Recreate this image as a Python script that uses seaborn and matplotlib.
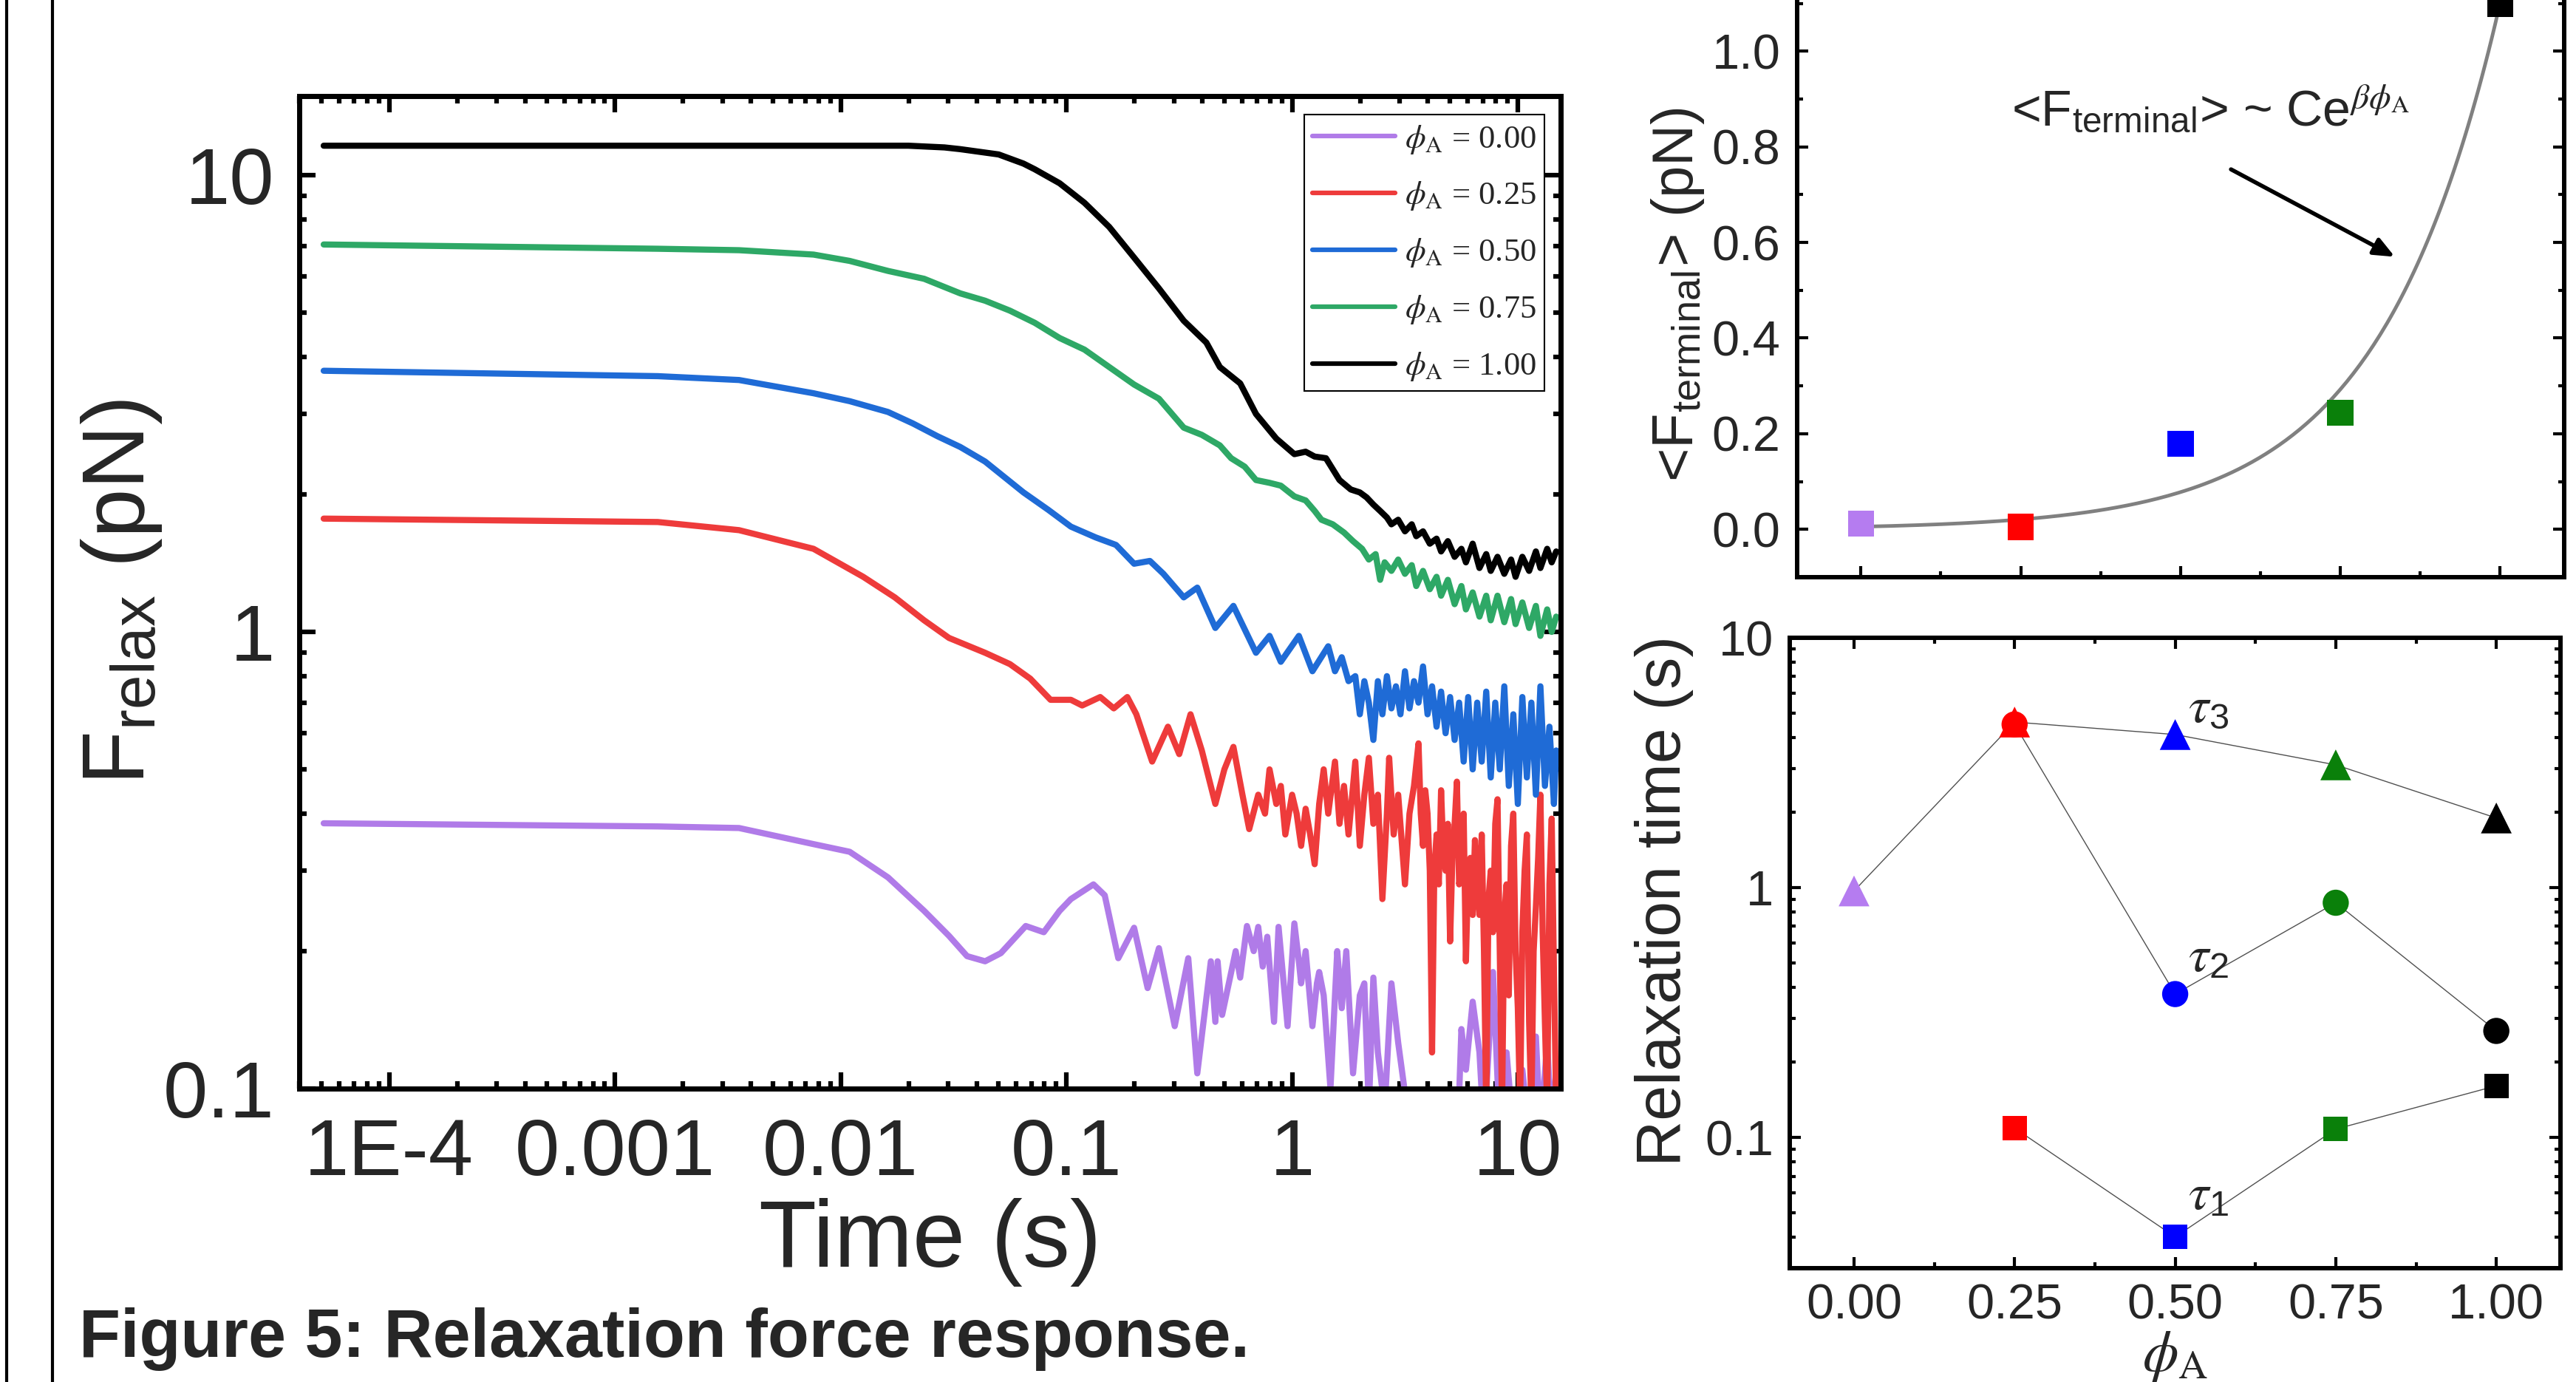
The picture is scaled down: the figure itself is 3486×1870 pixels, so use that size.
import numpy as np
import pandas as pd
import matplotlib
matplotlib.use('Agg')
import matplotlib.pyplot as plt
import seaborn as sns
from matplotlib.lines import Line2D
from matplotlib.ticker import (FixedLocator, FixedFormatter, LogLocator, MultipleLocator,
                               NullFormatter, FormatStrFormatter)

# ---- data ----
phi_values = [0.00, 0.25, 0.50, 0.75, 1.00]
phi_labels = ['0.00', '0.25', '0.50', '0.75', '1.00']
curve_colors = ['#b07be8', '#ee3b3b', '#1f6bd6', '#2ea866', '#000000']
marker_colors = ['#b57cf0', '#ff0000', '#0000ff', '#0a800a', '#000000']

# relaxation curves: (log10 time [s], F_relax [pN])
relax_000 = [(-4.29, 0.381), (-2.81, 0.375), (-2.45, 0.372), (-2.12, 0.343), (-1.96, 0.33),
             (-1.79, 0.29), (-1.63, 0.245), (-1.52, 0.216), (-1.44, 0.195), (-1.36, 0.19),
             (-1.29, 0.198), (-1.18, 0.227), (-1.10, 0.22), (-1.03, 0.245), (-0.98, 0.26),
             (-0.88, 0.28), (-0.83, 0.265), (-0.77, 0.193), (-0.70, 0.225), (-0.64, 0.166),
             (-0.59, 0.203), (-0.52, 0.137), (-0.46, 0.193), (-0.42, 0.108), (-0.36, 0.19),
             (-0.34, 0.14), (-0.33, 0.19), (-0.31, 0.145), (-0.25, 0.20), (-0.23, 0.175),
             (-0.20, 0.227), (-0.17, 0.20), (-0.15, 0.226), (-0.13, 0.185), (-0.11, 0.215),
             (-0.08, 0.14), (-0.06, 0.226), (-0.02, 0.137), (0.01, 0.23), (0.03, 0.19),
             (0.04, 0.17), (0.06, 0.20), (0.09, 0.137), (0.11, 0.17), (0.12, 0.18),
             (0.14, 0.16), (0.17, 0.10), (0.19, 0.16), (0.20, 0.20), (0.22, 0.15),
             (0.24, 0.20), (0.27, 0.108), (0.30, 0.16), (0.32, 0.17), (0.34, 0.09),
             (0.36, 0.175), (0.38, 0.12), (0.41, 0.09), (0.44, 0.17), (0.47, 0.126),
             (0.51, 0.09), (0.55, 0.05), (0.72, 0.05), (0.75, 0.135), (0.77, 0.11),
             (0.80, 0.155), (0.83, 0.12), (0.85, 0.08), (0.89, 0.18), (0.92, 0.08),
             (0.95, 0.12), (0.98, 0.08), (1.02, 0.11), (1.05, 0.08), (1.08, 0.13),
             (1.10, 0.08), (1.13, 0.126), (1.15, 0.08), (1.17, 0.11)]

relax_025 = [(-4.29, 1.77), (-2.81, 1.74), (-2.45, 1.67), (-2.12, 1.52), (-1.90, 1.32),
             (-1.76, 1.19), (-1.63, 1.06), (-1.52, 0.97), (-1.36, 0.90), (-1.25, 0.85),
             (-1.16, 0.79), (-1.07, 0.71), (-0.98, 0.71), (-0.93, 0.69), (-0.85, 0.72),
             (-0.79, 0.68), (-0.73, 0.72), (-0.69, 0.66), (-0.62, 0.52), (-0.55, 0.62),
             (-0.50, 0.54), (-0.45, 0.66), (-0.40, 0.55), (-0.34, 0.42), (-0.30, 0.50),
             (-0.26, 0.56), (-0.22, 0.44), (-0.19, 0.37), (-0.15, 0.44), (-0.12, 0.40),
             (-0.10, 0.50), (-0.07, 0.42), (-0.05, 0.46), (-0.03, 0.36), (0.00, 0.44),
             (0.02, 0.40), (0.04, 0.34), (0.06, 0.41), (0.08, 0.36), (0.10, 0.31),
             (0.12, 0.42), (0.14, 0.50), (0.16, 0.40), (0.19, 0.52), (0.21, 0.38),
             (0.23, 0.46), (0.25, 0.36), (0.28, 0.52), (0.30, 0.34), (0.32, 0.44),
             (0.34, 0.53), (0.36, 0.38), (0.38, 0.44), (0.40, 0.26), (0.42, 0.40),
             (0.43, 0.53), (0.45, 0.36), (0.47, 0.44), (0.50, 0.28), (0.52, 0.40),
             (0.54, 0.46), (0.56, 0.57), (0.57, 0.40), (0.58, 0.34), (0.59, 0.45),
             (0.60, 0.40), (0.61, 0.30), (0.62, 0.12), (0.63, 0.30), (0.64, 0.36),
             (0.65, 0.28), (0.66, 0.45), (0.67, 0.33), (0.68, 0.30), (0.69, 0.38),
             (0.70, 0.21), (0.71, 0.32), (0.72, 0.38), (0.73, 0.47), (0.74, 0.28),
             (0.75, 0.30), (0.76, 0.40), (0.77, 0.19), (0.78, 0.30), (0.79, 0.32),
             (0.80, 0.24), (0.81, 0.35), (0.82, 0.28), (0.83, 0.24), (0.84, 0.36),
             (0.85, 0.20), (0.86, 0.09), (0.87, 0.26), (0.88, 0.30), (0.89, 0.22),
             (0.90, 0.38), (0.91, 0.43), (0.92, 0.20), (0.93, 0.09), (0.94, 0.24),
             (0.95, 0.28), (0.96, 0.16), (0.97, 0.34), (0.98, 0.40), (0.99, 0.20),
             (1.00, 0.15), (1.01, 0.09), (1.02, 0.22), (1.03, 0.30), (1.04, 0.36),
             (1.05, 0.14), (1.06, 0.09), (1.07, 0.20), (1.08, 0.25), (1.09, 0.32),
             (1.10, 0.44), (1.11, 0.22), (1.12, 0.14), (1.13, 0.09), (1.14, 0.28),
             (1.15, 0.39), (1.16, 0.18), (1.17, 0.09)]

relax_050 = [(-4.29, 3.73), (-2.81, 3.63), (-2.45, 3.56), (-2.12, 3.33), (-1.96, 3.20),
             (-1.79, 3.03), (-1.68, 2.86), (-1.57, 2.68), (-1.47, 2.54), (-1.36, 2.36),
             (-1.19, 2.02), (-1.08, 1.85), (-0.98, 1.70), (-0.87, 1.61), (-0.78, 1.55),
             (-0.70, 1.41), (-0.63, 1.43), (-0.57, 1.34), (-0.48, 1.19), (-0.42, 1.25),
             (-0.34, 1.02), (-0.26, 1.14), (-0.16, 0.90), (-0.10, 0.98), (-0.05, 0.86),
             (0.03, 0.98), (0.09, 0.82), (0.16, 0.93), (0.19, 0.82), (0.22, 0.88),
             (0.25, 0.78), (0.28, 0.80), (0.30, 0.66), (0.32, 0.78), (0.34, 0.70),
             (0.36, 0.58), (0.38, 0.78), (0.40, 0.66), (0.42, 0.80), (0.44, 0.68),
             (0.46, 0.76), (0.48, 0.66), (0.50, 0.82), (0.52, 0.68), (0.54, 0.78),
             (0.56, 0.70), (0.58, 0.84), (0.60, 0.66), (0.62, 0.76), (0.64, 0.62),
             (0.66, 0.74), (0.68, 0.60), (0.70, 0.72), (0.72, 0.58), (0.74, 0.70),
             (0.76, 0.52), (0.78, 0.72), (0.80, 0.50), (0.82, 0.70), (0.84, 0.52),
             (0.86, 0.74), (0.88, 0.48), (0.90, 0.70), (0.92, 0.50), (0.94, 0.76),
             (0.96, 0.46), (0.98, 0.66), (1.00, 0.42), (1.02, 0.72), (1.04, 0.48),
             (1.06, 0.70), (1.08, 0.44), (1.10, 0.76), (1.12, 0.46), (1.14, 0.62),
             (1.16, 0.42), (1.17, 0.55)]

relax_075 = [(-4.29, 7.05), (-2.81, 6.90), (-2.45, 6.85), (-2.12, 6.70), (-1.96, 6.49),
             (-1.79, 6.17), (-1.63, 5.93), (-1.47, 5.51), (-1.36, 5.31), (-1.25, 5.05),
             (-1.14, 4.75), (-1.03, 4.40), (-0.92, 4.15), (-0.81, 3.80), (-0.70, 3.48),
             (-0.59, 3.24), (-0.48, 2.80), (-0.40, 2.70), (-0.32, 2.56), (-0.27, 2.40),
             (-0.21, 2.30), (-0.16, 2.15), (-0.10, 2.12), (-0.05, 2.09), (0.01, 1.98),
             (0.06, 1.94), (0.10, 1.84), (0.13, 1.76), (0.18, 1.72), (0.23, 1.65),
             (0.27, 1.58), (0.31, 1.52), (0.34, 1.44), (0.37, 1.48), (0.39, 1.30),
             (0.41, 1.42), (0.44, 1.36), (0.47, 1.44), (0.50, 1.34), (0.53, 1.40),
             (0.55, 1.26), (0.58, 1.36), (0.61, 1.24), (0.64, 1.32), (0.66, 1.20),
             (0.69, 1.30), (0.72, 1.15), (0.75, 1.26), (0.77, 1.12), (0.80, 1.22),
             (0.83, 1.08), (0.86, 1.20), (0.88, 1.06), (0.91, 1.20), (0.94, 1.05),
             (0.97, 1.18), (0.99, 1.04), (1.02, 1.16), (1.05, 1.02), (1.08, 1.14),
             (1.10, 0.98), (1.13, 1.12), (1.15, 1.00), (1.17, 1.08)]

relax_100 = [(-4.29, 11.6), (-1.70, 11.6), (-1.54, 11.5), (-1.47, 11.4), (-1.30, 11.1),
             (-1.19, 10.6), (-1.14, 10.3), (-1.03, 9.6), (-0.92, 8.7), (-0.81, 7.7),
             (-0.70, 6.6), (-0.59, 5.65), (-0.48, 4.8), (-0.38, 4.3), (-0.32, 3.8),
             (-0.23, 3.5), (-0.16, 3.0), (-0.07, 2.65), (0.01, 2.45), (0.06, 2.48),
             (0.10, 2.42), (0.15, 2.40), (0.21, 2.15), (0.26, 2.05), (0.30, 2.02),
             (0.33, 1.97), (0.36, 1.90), (0.39, 1.84), (0.42, 1.78), (0.44, 1.72),
             (0.47, 1.76), (0.50, 1.66), (0.53, 1.72), (0.55, 1.62), (0.58, 1.66),
             (0.61, 1.56), (0.64, 1.60), (0.66, 1.50), (0.69, 1.58), (0.72, 1.46),
             (0.75, 1.52), (0.77, 1.42), (0.80, 1.56), (0.83, 1.38), (0.86, 1.48),
             (0.88, 1.36), (0.91, 1.46), (0.94, 1.34), (0.97, 1.44), (0.99, 1.32),
             (1.02, 1.46), (1.05, 1.36), (1.08, 1.50), (1.10, 1.38), (1.13, 1.52),
             (1.15, 1.42), (1.17, 1.50)]

relax_curves = [relax_000, relax_025, relax_050, relax_075, relax_100]

# terminal force vs phi_A and exponential fit  <F> ~ C exp(beta phi)
f_terminal = [0.012, 0.005, 0.179, 0.244, 1.099]
fit_C = 0.0055
fit_beta = 5.3

# relaxation times (s)
tau3 = [0.97, 4.6, 4.1, 3.1, 1.9]
tau2 = [np.nan, 4.5, 0.375, 0.87, 0.267]
tau1 = [np.nan, 0.109, 0.040, 0.108, 0.161]

time_ticks = [1e-4, 1e-3, 1e-2, 1e-1, 1, 10]
time_ticklabels = ['1E-4', '0.001', '0.01', '0.1', '1', '10']

# ---- style ----
sns.set_theme(style='ticks')
plt.rcParams['font.family'] = ['Liberation Sans', 'DejaVu Sans']
plt.rcParams['mathtext.fontset'] = 'stix'

fig = plt.figure(figsize=(34.86, 18.70), dpi=100)
fig.patch.set_facecolor('white')

ax_f = fig.add_axes([0.1162, 0.2123, 0.4897, 0.7182])
ax_t = fig.add_axes([0.6976, 0.5824, 0.2978, 0.4497])
ax_r = fig.add_axes([0.6948, 0.0824, 0.2992, 0.4561])

# ---- left: relaxation curves ----
for pts, color, lab in zip(relax_curves, curve_colors, phi_labels):
    df = pd.DataFrame(pts, columns=['logt', 'force'])
    df['time'] = 10.0 ** df['logt']
    sns.lineplot(data=df, x='time', y='force', ax=ax_f, color=color, lw=6,
                 sort=False, estimator=None, label=r'$\phi_{\mathrm{A}}$ = ' + lab)

ax_f.set_xscale('log')
ax_f.set_yscale('log')
ax_f.set_xlim(4.0e-5, 15.5)
ax_f.set_ylim(0.1, 14.9)
ax_f.xaxis.set_major_locator(FixedLocator(time_ticks))
ax_f.xaxis.set_major_formatter(FixedFormatter(time_ticklabels))
ax_f.xaxis.set_minor_locator(LogLocator(base=10, subs=np.arange(2, 10), numticks=20))
ax_f.xaxis.set_minor_formatter(NullFormatter())
ax_f.yaxis.set_major_locator(FixedLocator([0.1, 1, 10]))
ax_f.yaxis.set_major_formatter(FixedFormatter(['0.1', '1', '10']))
ax_f.yaxis.set_minor_locator(LogLocator(base=10, subs=np.arange(2, 10), numticks=20))
ax_f.yaxis.set_minor_formatter(NullFormatter())
ax_f.tick_params(which='both', direction='in', top=True, right=True, width=4.5, color='black')
ax_f.tick_params(which='major', length=16, labelsize=78)
ax_f.tick_params(axis='x', which='major', pad=28)
ax_f.tick_params(axis='y', which='major', pad=24)
ax_f.tick_params(which='minor', length=7)
for sp in ax_f.spines.values():
    sp.set_linewidth(5)
    sp.set_color('black')
ax_f.set_xlabel('Time (s)', fontsize=92)
ax_f.set_ylabel(r'F$_{\mathregular{relax}}$ (pN)', fontsize=86)
ax_f.xaxis.set_label_coords(0.5, -0.11)
ax_f.yaxis.set_label_coords(-0.107, 0.5)

leg = ax_f.legend(loc='upper right', bbox_to_anchor=(0.987, 0.981), borderaxespad=0,
                  frameon=True, fancybox=False, edgecolor='black', framealpha=1,
                  prop={'family': 'Liberation Serif', 'size': 32},
                  handlelength=2.5, labelspacing=0.74, borderpad=0.25, handletextpad=0.3)
leg.get_frame().set_linewidth(1.5)
for line in leg.get_lines():
    line.set_linewidth(4.5)

# ---- top right: terminal force ----
phi_fit = np.linspace(0.0, 1.05, 200)
sns.lineplot(x=phi_fit, y=fit_C * np.exp(fit_beta * phi_fit), ax=ax_t, color='#808080', lw=3.5)
sns.scatterplot(x=phi_values, y=f_terminal, hue=phi_labels, palette=marker_colors, marker='s',
                s=650, linewidth=0, ax=ax_t, legend=False, zorder=3)
ax_t.set_xlim(-0.1, 1.1)
ax_t.set_ylim(-0.1, 1.2)
ax_t.xaxis.set_major_locator(MultipleLocator(0.25))
ax_t.xaxis.set_minor_locator(MultipleLocator(0.125))
ax_t.yaxis.set_major_locator(FixedLocator([0.0, 0.2, 0.4, 0.6, 0.8, 1.0]))
ax_t.yaxis.set_minor_locator(FixedLocator([0.1, 0.3, 0.5, 0.7, 0.9, 1.1]))
ax_t.yaxis.set_major_formatter(FormatStrFormatter('%.1f'))
ax_t.tick_params(axis='x', labelbottom=False)
ax_t.set_xlabel('')
ax_t.set_ylabel(r'<F$_{\mathregular{terminal}}$> (pN)', fontsize=56)
ax_t.yaxis.set_label_coords(-0.118, 0.455)
ax_t.annotate('', xy=(0.838, 0.568), xytext=(0.576, 0.755),
              arrowprops=dict(arrowstyle='-|>,head_length=1.4,head_width=0.6', color='black', lw=4))
ax_t.text(0.235, 0.845, r'<F$_{\mathregular{terminal}}$> ~ Ce$^{\beta\phi_{\mathrm{A}}}$',
          fontsize=49, ha='left', va='baseline')

# ---- bottom right: relaxation times ----
for taus, marker, size in [(tau3, '^', 900), (tau2, 'o', 650), (tau1, 's', 560)]:
    sns.lineplot(x=phi_values, y=taus, ax=ax_r, color='#505050', lw=1.0, sort=False, estimator=None)
    sns.scatterplot(x=phi_values, y=taus, hue=phi_labels, palette=marker_colors, marker=marker,
                    s=size, linewidth=0, ax=ax_r, legend=False, zorder=3)
ax_r.set_yscale('log')
ax_r.set_xlim(-0.1, 1.1)
ax_r.set_ylim(0.03, 10)
ax_r.xaxis.set_major_locator(MultipleLocator(0.25))
ax_r.xaxis.set_minor_locator(MultipleLocator(0.125))
ax_r.xaxis.set_major_formatter(FormatStrFormatter('%.2f'))
ax_r.yaxis.set_major_locator(FixedLocator([0.1, 1, 10]))
ax_r.yaxis.set_major_formatter(FixedFormatter(['0.1', '1', '10']))
ax_r.yaxis.set_minor_locator(LogLocator(base=10, subs=np.arange(2, 10), numticks=20))
ax_r.yaxis.set_minor_formatter(NullFormatter())
ax_r.set_xlabel(r'$\phi_{\mathrm{A}}$', fontsize=56)
ax_r.xaxis.set_label_coords(0.5, -0.097)
ax_r.set_ylabel('Relaxation time (s)', fontsize=62)
ax_r.yaxis.set_label_coords(-0.125, 0.583)
ax_r.text(0.52, 5.2, r'$\tau_{\mathregular{3}}$', fontsize=50, ha='left', va='center')
ax_r.text(0.52, 0.52, r'$\tau_{\mathregular{2}}$', fontsize=50, ha='left', va='center')
ax_r.text(0.52, 0.058, r'$\tau_{\mathregular{1}}$', fontsize=50, ha='left', va='center')

for ax in (ax_t, ax_r):
    ax.tick_params(which='both', direction='in', top=True, right=True, width=3, color='black')
    ax.tick_params(which='major', length=11, labelsize=48)
    ax.tick_params(axis='y', which='major', pad=16)
    ax.tick_params(axis='x', which='major', pad=15)
    ax.tick_params(which='minor', length=6)
    for sp in ax.spines.values():
        sp.set_linewidth(4.3)
        sp.set_color('black')

# page border lines on the left
for xf in (9 / 3486, 71 / 3486):
    fig.add_artist(Line2D([xf, xf], [0, 1], transform=fig.transFigure, color='black', lw=3))

fig.text(107 / 3486, 1 - 1836 / 1870, 'Figure 5: Relaxation force response.',
         fontsize=66, fontweight='bold', ha='left', va='baseline')

fig.savefig('out.png', dpi=100, facecolor='white')
